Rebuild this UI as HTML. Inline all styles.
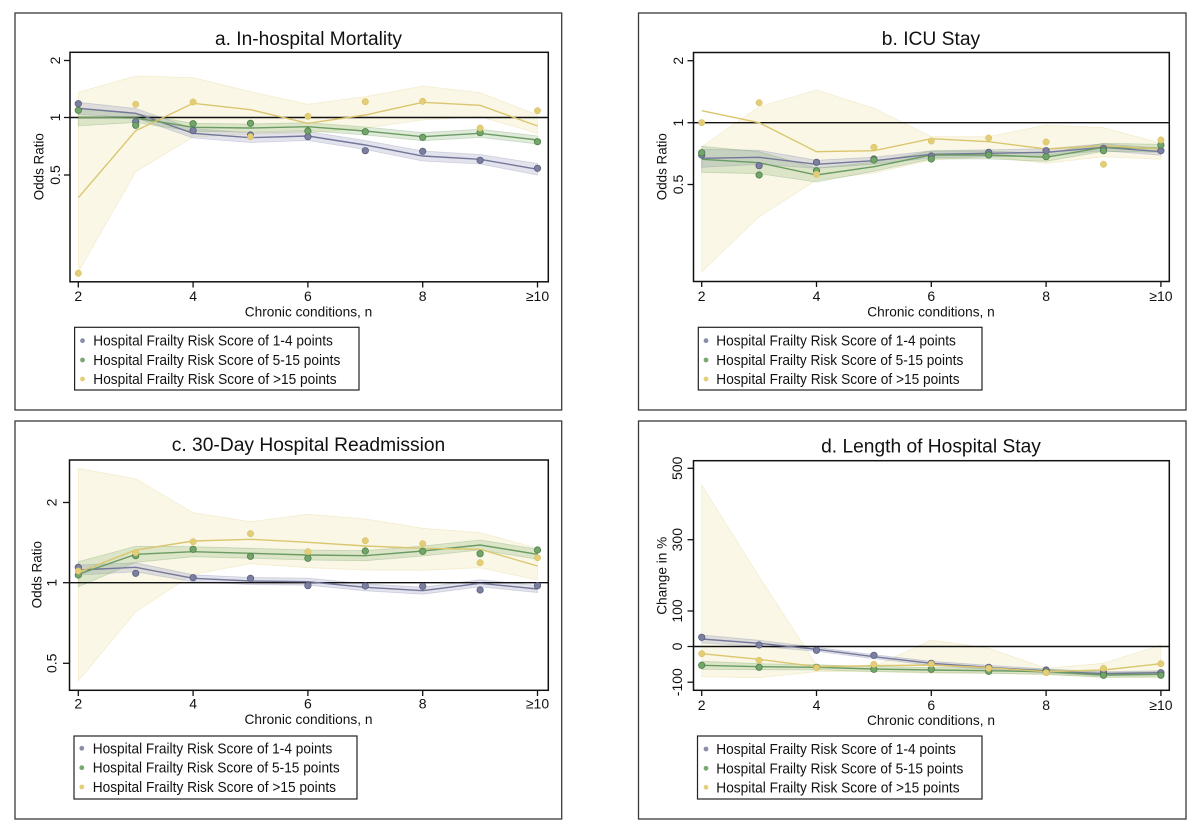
<!DOCTYPE html>
<html><head><meta charset="utf-8"><style>
html,body{margin:0;padding:0;background:#fff;}
svg{display:block;font-family:"Liberation Sans",Arial,sans-serif;}
</style></head><body>
<svg width="1200" height="832" viewBox="0 0 1200 832" xmlns="http://www.w3.org/2000/svg">
<rect width="1200" height="832" fill="#fff"/>
<defs>
<style>
.frame{fill:none;stroke:#3a3a3a;stroke-width:1.3}
.plot{fill:none;stroke:#111;stroke-width:1.5}
.ref{stroke:#111;stroke-width:1.4}
.tick{stroke:#111;stroke-width:1.3}
.yb{fill:rgba(236,222,160,0.25);stroke:rgba(225,205,130,0.3);stroke-width:0.8}
.bb{fill:rgba(140,145,185,0.25);stroke:rgba(120,125,165,0.28);stroke-width:0.8}
.gb{fill:rgba(120,170,100,0.23);stroke:rgba(100,150,85,0.28);stroke-width:0.8}
.bl{fill:none;stroke:#74779a;stroke-width:1.4}
.gl{fill:none;stroke:#6a9c62;stroke-width:1.4}
.yl{fill:none;stroke:#dac66e;stroke-width:1.4}
.bd{fill:#7b80a0;stroke:#5a5e7e;stroke-width:0.8}
.gd{fill:#72a56a;stroke:#4e7f48;stroke-width:0.8}
.yd{fill:#e3cd76;stroke:#d6bd5e;stroke-width:0.5}
.t{fill:#111;font-size:14px}
.ti{fill:#111;font-size:19px}
.lg{fill:none;stroke:#222;stroke-width:1.2}
.lt{fill:#111;font-size:14.5px}
</style>
</defs>

<!-- ================= PANEL A ================= -->
<rect class="frame" x="15" y="13" width="546.7" height="397"/>
<text class="ti" x="308.5" y="45" text-anchor="middle" textLength="187" lengthAdjust="spacingAndGlyphs">a. In-hospital Mortality</text>
<polygon class="yb" points="78.3,92.3 135.7,76 193.1,77.7 250.5,91.7 307.9,104.3 365.3,96.7 422.7,86 480.1,92.7 537.5,115 537.5,133.3 480.1,116.7 422.7,120 365.3,128 307.9,133 250.5,134 193.1,137 135.7,171.7 78.3,272"/>
<polygon class="bb" points="78.3,102.3 135.7,108.5 193.1,128.5 250.5,133 307.9,131.5 365.3,140.5 422.7,151 480.1,154.5 537.5,163.5 537.5,175 480.1,164 422.7,161 365.3,149.5 307.9,140.5 250.5,142.5 193.1,138 135.7,118 78.3,114.3"/>
<polygon class="gb" points="78.3,108.8 135.7,113.5 193.1,123.3 250.5,124 307.9,122.7 365.3,127 422.7,132.7 480.1,129.3 537.5,136 537.5,144 480.1,137.3 422.7,140.7 365.3,135 307.9,130.7 250.5,132 193.1,131.3 135.7,122.5 78.3,125.8"/>
<line class="ref" x1="70" y1="117.5" x2="548.3" y2="117.5"/>
<polyline class="bl" points="78.3,108.3 135.7,113.3 193.1,133.3 250.5,137.7 307.9,136 365.3,145 422.7,156 480.1,159.3 537.5,169.3"/>
<polyline class="gl" points="78.3,117.3 135.7,118 193.1,127.3 250.5,128 307.9,126.7 365.3,131 422.7,136.7 480.1,133.3 537.5,140"/>
<polyline class="yl" points="78.3,197.7 135.7,130.7 193.1,103.3 250.5,109.7 307.9,123.3 365.3,115 422.7,102.3 480.1,105.3 537.5,126"/>
<g class="bd"><circle cx="78.3" cy="103.7" r="3.2"/><circle cx="135.7" cy="121.7" r="3.2"/><circle cx="193.1" cy="130.7" r="3.2"/><circle cx="250.5" cy="135" r="3.2"/><circle cx="307.9" cy="136.7" r="3.2"/><circle cx="365.3" cy="150.7" r="3.2"/><circle cx="422.7" cy="151.3" r="3.2"/><circle cx="480.1" cy="160.3" r="3.2"/><circle cx="537.5" cy="168.3" r="3.2"/></g>
<g class="gd"><circle cx="78.3" cy="110.3" r="3.2"/><circle cx="135.7" cy="125.3" r="3.2"/><circle cx="193.1" cy="123.7" r="3.2"/><circle cx="250.5" cy="123.3" r="3.2"/><circle cx="307.9" cy="131" r="3.2"/><circle cx="365.3" cy="131.7" r="3.2"/><circle cx="422.7" cy="137.3" r="3.2"/><circle cx="480.1" cy="132.7" r="3.2"/><circle cx="537.5" cy="141.7" r="3.2"/></g>
<g class="yd"><circle cx="78.3" cy="273.3" r="3.2"/><circle cx="135.7" cy="104.3" r="3.2"/><circle cx="193.1" cy="102" r="3.2"/><circle cx="250.5" cy="136.7" r="3.2"/><circle cx="307.9" cy="116.3" r="3.2"/><circle cx="365.3" cy="101.7" r="3.2"/><circle cx="422.7" cy="101.3" r="3.2"/><circle cx="480.1" cy="128" r="3.2"/><circle cx="537.5" cy="110.7" r="3.2"/></g>
<rect class="plot" x="70" y="52.3" width="478.3" height="229.5"/>
<g class="tick">
<line x1="64" y1="60.5" x2="70" y2="60.5"/><line x1="64" y1="117.5" x2="70" y2="117.5"/><line x1="64" y1="175" x2="70" y2="175"/>
<line x1="78.3" y1="282" x2="78.3" y2="287.5"/><line x1="193.1" y1="282" x2="193.1" y2="287.5"/><line x1="307.9" y1="282" x2="307.9" y2="287.5"/><line x1="422.7" y1="282" x2="422.7" y2="287.5"/><line x1="537.5" y1="282" x2="537.5" y2="287.5"/>
</g>
<g class="t" text-anchor="middle">
<text transform="translate(55,60.5) rotate(-90)" y="5">2</text>
<text transform="translate(55,117.5) rotate(-90)" y="5">1</text>
<text transform="translate(55,175) rotate(-90)" y="5">0.5</text>
<text transform="translate(38.5,166.7) rotate(-90)" y="5" textLength="67" lengthAdjust="spacingAndGlyphs">Odds Ratio</text>
<text x="78.3" y="301">2</text><text x="193.1" y="301">4</text><text x="307.9" y="301">6</text><text x="422.7" y="301">8</text><text x="537.5" y="301">≥10</text>
<text x="308.5" y="316.5" textLength="127.5" lengthAdjust="spacingAndGlyphs">Chronic conditions, n</text>
</g>
<rect class="lg" x="74.6" y="327.3" width="284.4" height="62.7"/>
<circle cx="82.5" cy="340.7" r="2.4" fill="#8a8eaa"/><circle cx="82.5" cy="360" r="2.4" fill="#7aa872"/><circle cx="82.5" cy="379" r="2.4" fill="#e3cf7a"/>
<text class="lt" x="93.3" y="345.7" textLength="239.6" lengthAdjust="spacingAndGlyphs">Hospital Frailty Risk Score of 1-4 points</text>
<text class="lt" x="93.3" y="365" textLength="247" lengthAdjust="spacingAndGlyphs">Hospital Frailty Risk Score of 5-15 points</text>
<text class="lt" x="93.3" y="384" textLength="243.3" lengthAdjust="spacingAndGlyphs">Hospital Frailty Risk Score of &gt;15 points</text>

<!-- ================= PANEL B ================= -->
<rect class="frame" x="638.5" y="13" width="547.5" height="397"/>
<text class="ti" x="931" y="45" text-anchor="middle" textLength="98.4" lengthAdjust="spacingAndGlyphs">b. ICU Stay</text>
<polygon class="yb" points="701.7,146.7 759.1,106.7 816.5,90 873.9,108.3 931.3,136.7 988.7,136.7 1046.1,125 1103.5,127.7 1160.9,143.3 1160.9,159.3 1103.5,156.7 1046.1,163.3 988.7,156.7 931.3,160 873.9,173 816.5,180 759.1,216.7 701.7,271.7"/>
<polygon class="bb" points="701.7,149.3 759.1,150.3 816.5,160.3 873.9,157.2 931.3,150.8 988.7,149.8 1046.1,148.8 1103.5,143.8 1160.9,148.2 1160.9,155.2 1103.5,150.8 1046.1,155.8 988.7,156.8 931.3,157.8 873.9,164.2 816.5,168.3 759.1,164.3 701.7,167.3"/>
<polygon class="gb" points="701.7,146.3 759.1,151.7 816.5,168 873.9,162.2 931.3,151 988.7,151 1046.1,153.3 1103.5,143.3 1160.9,144.3 1160.9,152.3 1103.5,151.3 1046.1,161.3 988.7,159 931.3,159 873.9,171.2 816.5,182 759.1,173.7 701.7,172.3"/>
<line class="ref" x1="693.5" y1="122.7" x2="1169.3" y2="122.7"/>
<polyline class="bl" points="701.7,158.3 759.1,157.3 816.5,164.3 873.9,160.7 931.3,154.3 988.7,153.3 1046.1,152.3 1103.5,147.3 1160.9,151.7"/>
<polyline class="gl" points="701.7,159.3 759.1,162.7 816.5,175 873.9,166.7 931.3,155 988.7,155 1046.1,157.3 1103.5,147.3 1160.9,148.3"/>
<polyline class="yl" points="701.7,110.7 759.1,122.7 816.5,151.7 873.9,150.7 931.3,138.7 988.7,141.7 1046.1,149 1103.5,145.7 1160.9,149"/>
<g class="bd"><circle cx="701.7" cy="155" r="3.2"/><circle cx="759.1" cy="165.7" r="3.2"/><circle cx="816.5" cy="162.3" r="3.2"/><circle cx="873.9" cy="159" r="3.2"/><circle cx="931.3" cy="156" r="3.2"/><circle cx="988.7" cy="152.3" r="3.2"/><circle cx="1046.1" cy="150.7" r="3.2"/><circle cx="1103.5" cy="148.3" r="3.2"/><circle cx="1160.9" cy="150.7" r="3.2"/></g>
<g class="gd"><circle cx="701.7" cy="152.7" r="3.2"/><circle cx="759.1" cy="175" r="3.2"/><circle cx="816.5" cy="170.7" r="3.2"/><circle cx="873.9" cy="160" r="3.2"/><circle cx="931.3" cy="159" r="3.2"/><circle cx="988.7" cy="155" r="3.2"/><circle cx="1046.1" cy="156.7" r="3.2"/><circle cx="1103.5" cy="150.7" r="3.2"/><circle cx="1160.9" cy="145" r="3.2"/></g>
<g class="yd"><circle cx="701.7" cy="122.7" r="3.2"/><circle cx="759.1" cy="102.7" r="3.2"/><circle cx="816.5" cy="174.3" r="3.2"/><circle cx="873.9" cy="147.3" r="3.2"/><circle cx="931.3" cy="141" r="3.2"/><circle cx="988.7" cy="138" r="3.2"/><circle cx="1046.1" cy="142" r="3.2"/><circle cx="1103.5" cy="164.3" r="3.2"/><circle cx="1160.9" cy="140" r="3.2"/></g>
<rect class="plot" x="693.5" y="52.5" width="475.8" height="229"/>
<g class="tick">
<line x1="687.5" y1="60.7" x2="693.5" y2="60.7"/><line x1="687.5" y1="122.7" x2="693.5" y2="122.7"/><line x1="687.5" y1="184.5" x2="693.5" y2="184.5"/>
<line x1="701.7" y1="281.5" x2="701.7" y2="287"/><line x1="816.5" y1="281.5" x2="816.5" y2="287"/><line x1="931.3" y1="281.5" x2="931.3" y2="287"/><line x1="1046.1" y1="281.5" x2="1046.1" y2="287"/><line x1="1160.9" y1="281.5" x2="1160.9" y2="287"/>
</g>
<g class="t" text-anchor="middle">
<text transform="translate(678,60.7) rotate(-90)" y="5">2</text>
<text transform="translate(678,122.7) rotate(-90)" y="5">1</text>
<text transform="translate(678,184.5) rotate(-90)" y="5">0.5</text>
<text transform="translate(661.5,166.7) rotate(-90)" y="5" textLength="67" lengthAdjust="spacingAndGlyphs">Odds Ratio</text>
<text x="701.7" y="301">2</text><text x="816.5" y="301">4</text><text x="931.3" y="301">6</text><text x="1046.1" y="301">8</text><text x="1160.9" y="301">≥10</text>
<text x="931" y="316.5" textLength="127.5" lengthAdjust="spacingAndGlyphs">Chronic conditions, n</text>
</g>
<rect class="lg" x="698.3" y="327.3" width="283.7" height="62.7"/>
<circle cx="706" cy="340.7" r="2.4" fill="#8a8eaa"/><circle cx="706" cy="360" r="2.4" fill="#7aa872"/><circle cx="706" cy="379" r="2.4" fill="#e3cf7a"/>
<text class="lt" x="716.3" y="345.7" textLength="239.6" lengthAdjust="spacingAndGlyphs">Hospital Frailty Risk Score of 1-4 points</text>
<text class="lt" x="716.3" y="365" textLength="247" lengthAdjust="spacingAndGlyphs">Hospital Frailty Risk Score of 5-15 points</text>
<text class="lt" x="716.3" y="384" textLength="243.3" lengthAdjust="spacingAndGlyphs">Hospital Frailty Risk Score of &gt;15 points</text>

<!-- ================= PANEL C ================= -->
<rect class="frame" x="15" y="421" width="546.7" height="398"/>
<text class="ti" x="308.5" y="451" text-anchor="middle" textLength="273.5" lengthAdjust="spacingAndGlyphs">c. 30-Day Hospital Readmission</text>
<polygon class="yb" points="78.3,468.3 135.7,479 193.1,512.7 250.5,521.7 307.9,514.3 365.3,519 422.7,528.3 480.1,532.7 537.5,548.3 537.5,580 480.1,567.7 422.7,570.3 365.3,570 307.9,567.7 250.5,563.7 193.1,574.3 135.7,611.7 78.3,681"/>
<polygon class="bb" points="78.3,565 135.7,562.8 193.1,574.8 250.5,577.5 307.9,578.2 365.3,583.8 422.7,587.2 480.1,579.8 537.5,585.5 537.5,592.5 480.1,586.8 422.7,594.2 365.3,590.8 307.9,585.2 250.5,584.5 193.1,581.8 135.7,571.8 78.3,575"/>
<polygon class="gb" points="78.3,561.8 135.7,546.3 193.1,546.7 250.5,548.3 307.9,550 365.3,550.7 422.7,546 480.1,540 537.5,549.3 537.5,559.3 480.1,550 422.7,556 365.3,560.7 307.9,560 250.5,558.3 193.1,556.7 135.7,562.3 78.3,586.8"/>
<line class="ref" x1="69.5" y1="582.7" x2="548.3" y2="582.7"/>
<polyline class="bl" points="78.3,570 135.7,567.3 193.1,578.3 250.5,581 307.9,581.7 365.3,587.3 422.7,590.7 480.1,583.3 537.5,589"/>
<polyline class="gl" points="78.3,574.3 135.7,554.3 193.1,551.7 250.5,553.3 307.9,555 365.3,555.7 422.7,551 480.1,545 537.5,554.3"/>
<polyline class="yl" points="78.3,572.3 135.7,550 193.1,541 250.5,539.3 307.9,542.3 365.3,546 422.7,548.3 480.1,549.3 537.5,566"/>
<g class="bd"><circle cx="78.3" cy="567.3" r="3.2"/><circle cx="135.7" cy="573.3" r="3.2"/><circle cx="193.1" cy="577.7" r="3.2"/><circle cx="250.5" cy="578.3" r="3.2"/><circle cx="307.9" cy="585.7" r="3.2"/><circle cx="365.3" cy="586" r="3.2"/><circle cx="422.7" cy="586.3" r="3.2"/><circle cx="480.1" cy="590" r="3.2"/><circle cx="537.5" cy="585.7" r="3.2"/></g>
<g class="gd"><circle cx="78.3" cy="575" r="3.2"/><circle cx="135.7" cy="555.7" r="3.2"/><circle cx="193.1" cy="549.3" r="3.2"/><circle cx="250.5" cy="556.3" r="3.2"/><circle cx="307.9" cy="558.3" r="3.2"/><circle cx="365.3" cy="551" r="3.2"/><circle cx="422.7" cy="551.3" r="3.2"/><circle cx="480.1" cy="553.7" r="3.2"/><circle cx="537.5" cy="550" r="3.2"/></g>
<g class="yd"><circle cx="78.3" cy="571" r="3.2"/><circle cx="135.7" cy="552.7" r="3.2"/><circle cx="193.1" cy="541.7" r="3.2"/><circle cx="250.5" cy="533.7" r="3.2"/><circle cx="307.9" cy="551.7" r="3.2"/><circle cx="365.3" cy="540.7" r="3.2"/><circle cx="422.7" cy="543.7" r="3.2"/><circle cx="480.1" cy="562.7" r="3.2"/><circle cx="537.5" cy="557.7" r="3.2"/></g>
<rect class="plot" x="69.5" y="460" width="478.8" height="230.3"/>
<g class="tick">
<line x1="63" y1="502.5" x2="69.5" y2="502.5"/><line x1="63" y1="582.7" x2="69.5" y2="582.7"/><line x1="63" y1="663.3" x2="69.5" y2="663.3"/>
<line x1="78.3" y1="690.3" x2="78.3" y2="696"/><line x1="193.1" y1="690.3" x2="193.1" y2="696"/><line x1="307.9" y1="690.3" x2="307.9" y2="696"/><line x1="422.7" y1="690.3" x2="422.7" y2="696"/><line x1="537.5" y1="690.3" x2="537.5" y2="696"/>
</g>
<g class="t" text-anchor="middle">
<text transform="translate(51.7,502.5) rotate(-90)" y="5">2</text>
<text transform="translate(51.7,582.7) rotate(-90)" y="5">1</text>
<text transform="translate(51.7,663.3) rotate(-90)" y="5">0.5</text>
<text transform="translate(36.5,574.7) rotate(-90)" y="5" textLength="67.3" lengthAdjust="spacingAndGlyphs">Odds Ratio</text>
<text x="78.3" y="708.5">2</text><text x="193.1" y="708.5">4</text><text x="307.9" y="708.5">6</text><text x="422.7" y="708.5">8</text><text x="537.5" y="708.5">≥10</text>
<text x="308.5" y="724" textLength="128" lengthAdjust="spacingAndGlyphs">Chronic conditions, n</text>
</g>
<rect class="lg" x="74" y="736" width="283" height="63"/>
<circle cx="81.8" cy="748.3" r="2.4" fill="#8a8eaa"/><circle cx="81.8" cy="767.7" r="2.4" fill="#7aa872"/><circle cx="81.8" cy="787" r="2.4" fill="#e3cf7a"/>
<text class="lt" x="92.7" y="753.3" textLength="239.6" lengthAdjust="spacingAndGlyphs">Hospital Frailty Risk Score of 1-4 points</text>
<text class="lt" x="92.7" y="772.7" textLength="247" lengthAdjust="spacingAndGlyphs">Hospital Frailty Risk Score of 5-15 points</text>
<text class="lt" x="92.7" y="792" textLength="243.3" lengthAdjust="spacingAndGlyphs">Hospital Frailty Risk Score of &gt;15 points</text>

<!-- ================= PANEL D ================= -->
<rect class="frame" x="638.5" y="421" width="547.5" height="398"/>
<text class="ti" x="931" y="452.5" text-anchor="middle" textLength="219.7" lengthAdjust="spacingAndGlyphs">d. Length of Hospital Stay</text>
<polygon class="yb" points="701.7,485 759.1,576.7 816.5,665 873.9,666.7 931.3,640 988.7,648.3 1046.1,668.3 1103.5,663.3 1160.9,645 1160.9,678 1103.5,676.7 1046.1,675 988.7,673.3 931.3,673.3 873.9,671.7 816.5,671.7 759.1,677.7 701.7,676.7"/>
<polygon class="bb" points="701.7,635 759.1,640.3 816.5,647.3 873.9,654.7 931.3,661.3 988.7,665.3 1046.1,669 1103.5,671.7 1160.9,670.7 1160.9,674.7 1103.5,675.7 1046.1,673 988.7,669.3 931.3,665.3 873.9,658.7 816.5,651.3 759.1,646.3 701.7,643"/>
<polygon class="gb" points="701.7,661.3 759.1,663.7 816.5,664.8 873.9,666.5 931.3,667.5 988.7,668.2 1046.1,669.2 1103.5,672.5 1160.9,671.8 1160.9,676.8 1103.5,677.5 1046.1,674.2 988.7,673.2 931.3,672.5 873.9,671.5 816.5,669.8 759.1,669.7 701.7,669.3"/>
<line class="ref" x1="693.5" y1="646.5" x2="1169.3" y2="646.5"/>
<polyline class="bl" points="701.7,639 759.1,643.3 816.5,649.3 873.9,656.7 931.3,663.3 988.7,667.3 1046.1,671 1103.5,673.7 1160.9,672.7"/>
<polyline class="gl" points="701.7,665.3 759.1,666.7 816.5,667.3 873.9,669 931.3,670 988.7,670.7 1046.1,671.7 1103.5,675 1160.9,674.3"/>
<polyline class="yl" points="701.7,653.7 759.1,659.3 816.5,666.7 873.9,665.7 931.3,665 988.7,667.7 1046.1,671.7 1103.5,670 1160.9,663.7"/>
<g class="bd"><circle cx="701.7" cy="637.3" r="3.2"/><circle cx="759.1" cy="645" r="3.2"/><circle cx="816.5" cy="650.3" r="3.2"/><circle cx="873.9" cy="655.3" r="3.2"/><circle cx="931.3" cy="663.3" r="3.2"/><circle cx="988.7" cy="667.3" r="3.2"/><circle cx="1046.1" cy="670" r="3.2"/><circle cx="1103.5" cy="672.7" r="3.2"/><circle cx="1160.9" cy="672.7" r="3.2"/></g>
<g class="gd"><circle cx="701.7" cy="665.3" r="3.2"/><circle cx="759.1" cy="667.3" r="3.2"/><circle cx="816.5" cy="667.3" r="3.2"/><circle cx="873.9" cy="669.3" r="3.2"/><circle cx="931.3" cy="669.3" r="3.2"/><circle cx="988.7" cy="671.3" r="3.2"/><circle cx="1046.1" cy="672" r="3.2"/><circle cx="1103.5" cy="675.3" r="3.2"/><circle cx="1160.9" cy="675.3" r="3.2"/></g>
<g class="yd"><circle cx="701.7" cy="653.7" r="3.2"/><circle cx="759.1" cy="660.3" r="3.2"/><circle cx="816.5" cy="667.7" r="3.2"/><circle cx="873.9" cy="664.3" r="3.2"/><circle cx="931.3" cy="664" r="3.2"/><circle cx="988.7" cy="668.3" r="3.2"/><circle cx="1046.1" cy="672.7" r="3.2"/><circle cx="1103.5" cy="668.3" r="3.2"/><circle cx="1160.9" cy="663.7" r="3.2"/></g>
<rect class="plot" x="693.5" y="460.7" width="475.8" height="229.6"/>
<g class="tick">
<line x1="687.5" y1="468.3" x2="693.5" y2="468.3"/><line x1="687.5" y1="539.7" x2="693.5" y2="539.7"/><line x1="687.5" y1="611" x2="693.5" y2="611"/><line x1="687.5" y1="646.5" x2="693.5" y2="646.5"/><line x1="687.5" y1="682.2" x2="693.5" y2="682.2"/>
<line x1="701.7" y1="690.3" x2="701.7" y2="696"/><line x1="816.5" y1="690.3" x2="816.5" y2="696"/><line x1="931.3" y1="690.3" x2="931.3" y2="696"/><line x1="1046.1" y1="690.3" x2="1046.1" y2="696"/><line x1="1160.9" y1="690.3" x2="1160.9" y2="696"/>
</g>
<g class="t" text-anchor="middle">
<text transform="translate(677,468.3) rotate(-90)" y="5">500</text>
<text transform="translate(677,539.7) rotate(-90)" y="5">300</text>
<text transform="translate(677,611) rotate(-90)" y="5">100</text>
<text transform="translate(677,646.5) rotate(-90)" y="5">0</text>
<text transform="translate(677,682.2) rotate(-90)" y="5">-100</text>
<text transform="translate(661.5,575.8) rotate(-90)" y="5" textLength="78" lengthAdjust="spacingAndGlyphs">Change in %</text>
<text x="701.7" y="710">2</text><text x="816.5" y="710">4</text><text x="931.3" y="710">6</text><text x="1046.1" y="710">8</text><text x="1160.9" y="710">≥10</text>
<text x="931" y="725" textLength="128" lengthAdjust="spacingAndGlyphs">Chronic conditions, n</text>
</g>
<rect class="lg" x="697.5" y="736" width="284.5" height="63"/>
<circle cx="706" cy="749" r="2.4" fill="#8a8eaa"/><circle cx="706" cy="768.3" r="2.4" fill="#7aa872"/><circle cx="706" cy="787.3" r="2.4" fill="#e3cf7a"/>
<text class="lt" x="716.3" y="754" textLength="239.6" lengthAdjust="spacingAndGlyphs">Hospital Frailty Risk Score of 1-4 points</text>
<text class="lt" x="716.3" y="773.3" textLength="247" lengthAdjust="spacingAndGlyphs">Hospital Frailty Risk Score of 5-15 points</text>
<text class="lt" x="716.3" y="792.3" textLength="243.3" lengthAdjust="spacingAndGlyphs">Hospital Frailty Risk Score of &gt;15 points</text>
</svg>
</body></html>
